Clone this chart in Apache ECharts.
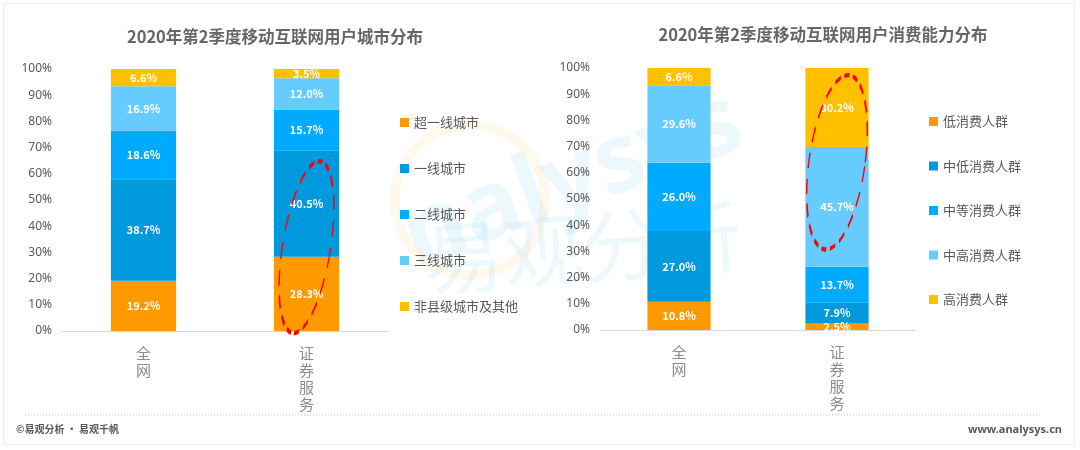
<!DOCTYPE html>
<html><head><meta charset="utf-8">
<script src="https://cdn.jsdelivr.net/npm/echarts@6/dist/echarts.min.js"></script>
<style>
html,body{margin:0;padding:0;background:#fff;}
#wrap{position:absolute;left:3px;top:3px;width:1072px;height:442px;border:1px solid #ececec;box-sizing:border-box;}
#c{position:absolute;left:0;top:0;width:1080px;height:450px;}
</style></head>
<body>
<div id="wrap"></div>
<div id="c"></div>
<script>
// ---- data ----
const categories = ['全网', '证券服务'];
const cityNames = ['超一线城市', '一线城市', '二线城市', '三线城市', '非县级城市及其他'];
const cityValues = [
  [19.2, 28.3],
  [38.7, 40.5],
  [18.6, 15.7],
  [16.9, 12.0],
  [6.6, 3.5]
];
const consumeNames = ['低消费人群', '中低消费人群', '中等消费人群', '中高消费人群', '高消费人群'];
const consumeValues = [
  [10.8, 2.5],
  [27.0, 7.9],
  [26.0, 13.7],
  [29.6, 45.7],
  [6.6, 30.2]
];
const yTicks = [0, 10, 20, 30, 40, 50, 60, 70, 80, 90, 100];
const colors = ['#FF9900', '#0099DD', '#00AAFF', '#66CCFF', '#FFC000'];
const titles = ['2020年第2季度移动互联网用户城市分布', '2020年第2季度移动互联网用户消费能力分布'];

const chart = echarts.init(document.getElementById('c'));

function makeSeries(names, values, idx) {
  return names.map((n, i) => ({
    name: n,
    type: 'bar',
    stack: 's' + idx,
    xAxisIndex: idx,
    yAxisIndex: idx,
    barWidth: '40%',
    data: values[i],
    itemStyle: { color: colors[i] },
    label: {
      show: true, position: 'inside', color: '#fff', fontSize: 11, fontWeight: 'bold',
      fontFamily: 'Noto Sans CJK SC',
      formatter: p => p.value.toFixed(1) + '%'
    }
  }));
}

const grids = [
  { left: 62, top: 69, width: 326, height: 262 },
  { left: 600, top: 68, width: 316, height: 262 }
];

function xAxis(i) {
  return {
    type: 'category', gridIndex: i, data: categories,
    axisLine: { lineStyle: { color: '#D9D9D9' } },
    axisTick: { show: false },
    axisLabel: {
      color: '#8C8C8C', fontSize: 15, lineHeight: 17, margin: 14, verticalAlign: 'top',
      fontFamily: 'Noto Sans CJK SC',
      formatter: v => v.split('').join('\n')
    }
  };
}
function yAxis(i) {
  return {
    type: 'value', gridIndex: i, min: yTicks[0], max: yTicks[yTicks.length - 1], interval: 10,
    axisLine: { show: false }, axisTick: { show: false }, splitLine: { show: false },
    axisLabel: { color: '#595959', fontSize: 12, margin: 10, fontFamily: 'Noto Sans', formatter: v => v + '%' }
  };
}

const option = {
  animation: false,
  textStyle: { fontFamily: 'Noto Sans CJK SC' },
  title: [
    { text: titles[0], left: 270, top: 23, textAlign: 'center',
      textStyle: { fontSize: 16.5, fontWeight: 'bold', color: '#666666', fontFamily: 'Noto Sans CJK SC' } },
    { text: titles[1], left: 818, top: 21, textAlign: 'center',
      textStyle: { fontSize: 16.5, fontWeight: 'bold', color: '#666666', fontFamily: 'Noto Sans CJK SC' } }
  ],
  grid: grids,
  xAxis: [xAxis(0), xAxis(1)],
  yAxis: [yAxis(0), yAxis(1)],
  legend: [
    { data: cityNames, orient: 'vertical', left: 395, top: 111, itemWidth: 9, itemHeight: 9, itemGap: 33,
      icon: 'rect', textStyle: { color: '#595959', fontSize: 13, fontFamily: 'Noto Sans CJK SC' }, selectedMode: false },
    { data: consumeNames, orient: 'vertical', left: 924, top: 110, itemWidth: 9, itemHeight: 9, itemGap: 31.5,
      icon: 'rect', textStyle: { color: '#595959', fontSize: 13, fontFamily: 'Noto Sans CJK SC' }, selectedMode: false }
  ],
  series: makeSeries(cityNames, cityValues, 0).concat(makeSeries(consumeNames, consumeValues, 1)),
  graphic: [
    { type: 'text', left: 390, top: 75, rotation: 0.35, silent: true, z: -10,
      style: { text: 'nalysys', fontSize: 96, fontWeight: 'bold', fill: 'rgba(0,160,233,0.07)', fontFamily: 'Noto Sans' } },
    { type: 'circle', shape: { cx: 470, cy: 200, r: 75 }, silent: true, z: -10,
      style: { fill: 'none', stroke: 'rgba(255,153,0,0.07)', lineWidth: 10 } },
    { type: 'text', left: 420, top: 195, rotation: 0.08, silent: true, z: -10,
      style: { text: '易观分析', fontSize: 80, fill: 'rgba(0,160,233,0.07)', fontFamily: 'Noto Sans CJK SC' } },
    { type: 'line', shape: { x1: 25, y1: 415, x2: 1040, y2: 415 },
      style: { stroke: '#BFBFBF', lineWidth: 1, lineDash: [1, 2] } },
    { type: 'text', left: 16, top: 424,
      style: { text: '©易观分析 · 易观千帆', fontSize: 10, fontWeight: 'bold', fill: '#595959', fontFamily: 'Noto Sans CJK SC' } },
    { type: 'text', right: 18, top: 424,
      style: { text: 'www.analysys.cn', fontSize: 11, fontWeight: 'bold', fill: '#595959', fontFamily: 'Noto Sans' } }
  ]
};
chart.setOption(option);

// red dashed annotation ellipses around the 证券服务 bars
const c0 = chart.convertToPixel({ gridIndex: 0 }, ['证券服务', 32]);
const c1 = chart.convertToPixel({ gridIndex: 1 }, ['证券服务', 64]);
function ellipse(c, rx, ry, rot) {
  return {
    type: 'circle', x: c[0], y: c[1], scaleX: rx / 100, scaleY: ry / 100, rotation: rot,
    shape: { cx: 0, cy: 0, r: 100 }, z: 100, silent: true,
    style: { fill: 'none', stroke: '#FF0000', lineWidth: 2.5, lineDash: [9, 6], strokeNoScale: true }
  };
}
chart.setOption({
  graphic: option.graphic.concat([ellipse(c0, 24, 87, -0.16), ellipse(c1, 28, 88, -0.14)])
});
</script>
</body></html>
